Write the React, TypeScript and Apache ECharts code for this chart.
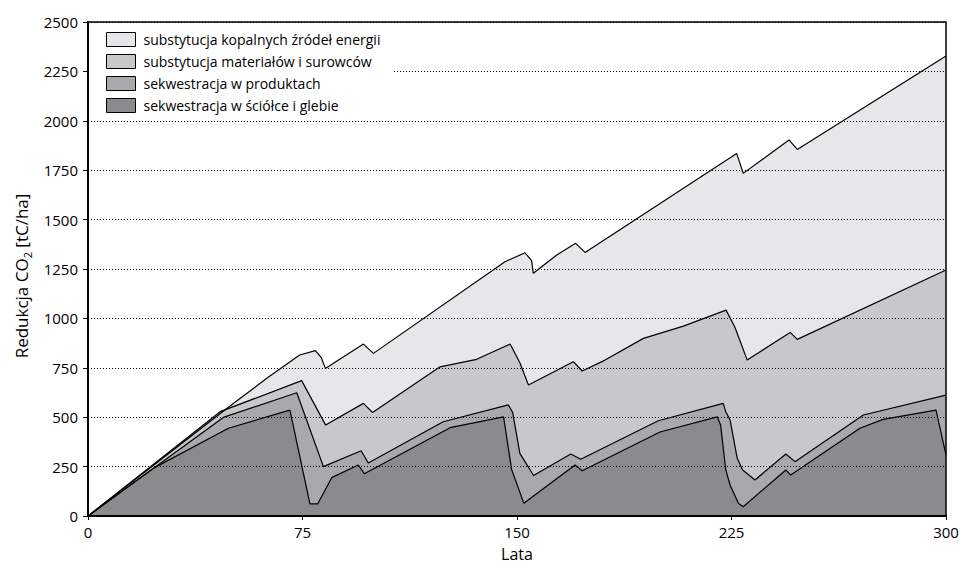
import React, { useEffect, useRef } from "react";
import * as echarts from "echarts";

const seriesNames = [
  "substytucja kopalnych źródeł energii",
  "substytucja materiałów i surowców",
  "sekwestracja w produktach",
  "sekwestracja w ściółce i glebie",
];
const fillColors = ["#e6e7e9", "#c7c8ca", "#a8a9ac", "#8a8b8d"];

// cumulative upper boundaries (tC/ha)
const fossilX = [0, 50, 62.5, 74, 79.5, 81.5, 83, 96.3, 99.8, 145.8, 152.8, 155.1, 155.7, 163.9, 170.5, 173.8, 226.8, 229.1, 245.1, 248, 300];
const fossilY = [0, 560, 697, 815, 837, 803, 747, 870, 823, 1287, 1332, 1292, 1228, 1321, 1380, 1334, 1835, 1734, 1903, 1855, 2328];

const materialsX = [0, 46.2, 74.7, 83.1, 96.3, 99.5, 123.1, 135.9, 147.6, 151, 154, 169.7, 172.8, 180.8, 194.2, 208.2, 223.1, 226.2, 230.5, 245.5, 248, 300];
const materialsY = [0, 528, 685, 460, 570, 524, 755, 793, 870, 776, 663, 781, 734, 789, 899, 961, 1042, 955, 789, 929, 894, 1245];

const productsX = [0, 47.3, 73, 82.3, 95.5, 98, 124.2, 147, 148.5, 151, 155.8, 168.8, 172.3, 199.4, 222.1, 223, 224.5, 227, 228.9, 233.2, 244, 247.2, 271.1, 300];
const productsY = [0, 499, 624, 250, 330, 268, 477, 562, 523, 317, 205, 314, 287, 482, 570, 528, 486, 292, 233, 182, 314, 275, 511, 612];

const litterX = [0, 22.8, 49.1, 70.6, 77.6, 80.3, 85.2, 94.5, 96.6, 126.6, 145.3, 148.1, 152.4, 170.3, 172.8, 200, 220, 221.2, 223, 224.5, 227.4, 229.1, 244, 245.7, 269.9, 278, 296.5, 300];
const litterY = [0, 241, 444, 536, 61, 61, 194, 258, 214, 447, 502, 236, 64, 258, 229, 425, 502, 460, 233, 157, 64, 47, 233, 207, 444, 489, 536, 309];

const xTicks = { min: 0, max: 300, interval: 75 };
const yTicks = { min: 0, max: 2500, interval: 250 };

const FONT = "'Open Sans', 'Noto Sans', sans-serif";

export default function App() {
  const ref = useRef<HTMLDivElement>(null);

  useEffect(() => {
    if (!ref.current) return;
    const chart = echarts.init(ref.current, null, { renderer: "svg" });
    const bounds = [
      [fossilX, fossilY],
      [materialsX, materialsY],
      [productsX, productsY],
      [litterX, litterY],
    ];
    const series = bounds.map(([xs, ys], i) => ({
      name: seriesNames[i],
      type: "line",
      z: -1,
      symbol: "none",
      data: xs.map((x, k) => [x, ys[k]]),
      lineStyle: { color: "#000", width: 1.2 },
      itemStyle: { color: fillColors[i] },
      areaStyle: { color: fillColors[i], opacity: 1 },
    }));

    chart.setOption({
      animation: false,
      textStyle: { fontFamily: FONT },
      grid: {
        left: 88,
        right: 16,
        top: 22,
        bottom: 52,
        show: true,
        borderColor: "#000",
        borderWidth: 1.5,
        backgroundColor: "transparent",
      },
      legend: {
        orient: "vertical",
        left: 90,
        top: 24,
        itemWidth: 29,
        itemHeight: 14,
        itemGap: 7,
        icon: "rect",
        backgroundColor: "#fff",
        padding: [8, 12, 8, 16],
        selectedMode: false,
        textStyle: { fontSize: 14, color: "#000", fontFamily: FONT, padding: [0, 0, 0, 3] },
        data: seriesNames.map((n, i) => ({
          name: n,
          itemStyle: { color: fillColors[i], borderColor: "#000", borderWidth: 1 },
        })),
      },
      xAxis: {
        type: "value",
        min: xTicks.min,
        max: xTicks.max,
        interval: xTicks.interval,
        name: "Lata",
        nameLocation: "middle",
        nameGap: 30,
        nameTextStyle: { fontSize: 16, color: "#000", fontFamily: FONT },
        axisLine: { lineStyle: { color: "#000", width: 2 } },
        axisTick: { length: 4, lineStyle: { color: "#000", width: 1 } },
        axisLabel: { fontSize: 15, color: "#000", margin: 8, fontFamily: FONT, formatter: (v: number) => String(v) },
        splitLine: { show: false },
      },
      yAxis: {
        type: "value",
        min: yTicks.min,
        max: yTicks.max,
        interval: yTicks.interval,
        name: "{a|Redukcja CO}{s|2}{a| [tC/ha]}",
        nameLocation: "middle",
        nameRotate: 90,
        nameGap: 55,
        nameTextStyle: {
          padding: [0, 14, 0, 0],
          rich: {
            a: { fontSize: 17, color: "#000", fontFamily: FONT, lineHeight: 23 },
            s: { fontSize: 11, color: "#000", fontFamily: FONT, verticalAlign: "bottom", lineHeight: 12 },
          },
        },
        axisLine: { show: true, lineStyle: { color: "#000", width: 2 } },
        axisTick: { show: true, length: 5, lineStyle: { color: "#000", width: 1 } },
        axisLabel: { fontSize: 15, color: "#000", margin: 10, fontFamily: FONT, formatter: (v: number) => String(v) },
        splitLine: { show: true, lineStyle: { color: "#000", width: 1, type: [1, 2] } },
      },
      series,
    });
    return () => chart.dispose();
  }, []);

  return (
    <div
      ref={ref}
      style={{ position: "absolute", left: 0, top: 0, width: 962, height: 568 }}
    />
  );
}
